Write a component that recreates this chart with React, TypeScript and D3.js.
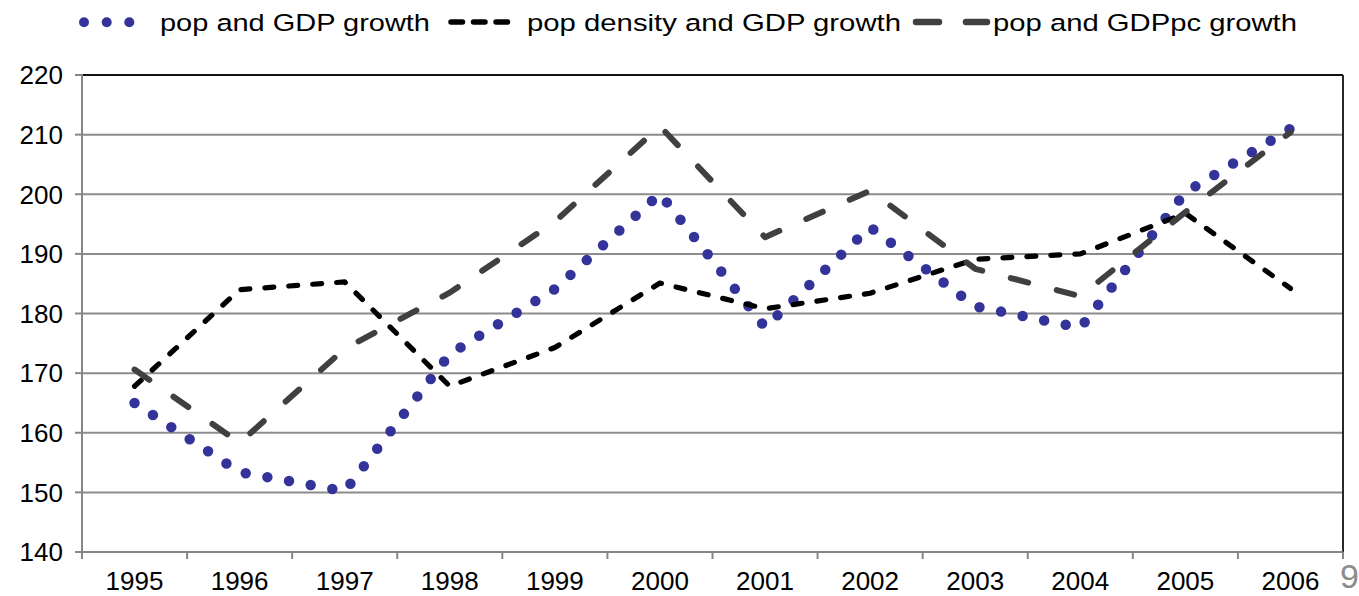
import React from "react";
import * as d3 from "d3";

// Years on the category axis
const years = ["1995", "1996", "1997", "1998", "1999", "2000", "2001", "2002", "2003", "2004", "2005", "2006"];

// Index series
const popGdpGrowth = [165.0, 153.4, 150.2, 173.2, 184.1, 200.1, 177.7, 194.5, 181.2, 177.6, 200.3, 211.0];
const popDensityGdpGrowth = [167.8, 184.0, 185.3, 167.8, 174.3, 185.1, 180.8, 183.4, 189.1, 190.0, 196.8, 184.2];
const popGdppcGrowth = [170.6, 158.3, 174.1, 183.5, 195.4, 211.4, 192.8, 200.6, 187.5, 182.9, 197.0, 210.4];

// Value axis ticks
const yTicks = [140, 150, 160, 170, 180, 190, 200, 210, 220];

const seriesNames = ["pop and GDP growth", "pop density and GDP growth", "pop and GDPpc growth"];

const W = 1359;
const H = 596;
const plot = { left: 82, right: 1343, top: 75, bottom: 552 };
const FONT = "'Liberation Sans', Arial, Helvetica, sans-serif";

const BLUE = "#333399";
const BLACK = "#000000";
const DARK = "#404040";
const GRID = "#8c8c8c";

export default function App() {
  const x = d3.scaleBand<string>().domain(years).range([plot.left, plot.right]).paddingInner(0).paddingOuter(0);
  const bw = x.bandwidth();
  const cx = (i: number) => (x(years[i]) as number) + bw / 2;
  const y = d3.scaleLinear().domain([140, 220]).range([plot.bottom, plot.top]);

  const line = d3
    .line<number>()
    .x((_, i) => cx(i))
    .y((d) => y(d));

  const boundaries = years.map((yr) => x(yr) as number).concat([plot.right]);

  return (
    <svg
      width={W}
      height={H}
      viewBox={`0 0 ${W} ${H}`}
      style={{ position: "absolute", left: 0, top: 0, background: "#fff" }}
      fontFamily={FONT}
    >
      <rect x={0} y={0} width={W} height={H} fill="#fff" />

      {/* horizontal gridlines */}
      {yTicks.slice(1, -1).map((t) => (
        <line key={t} x1={plot.left} x2={plot.right} y1={y(t)} y2={y(t)} stroke={GRID} strokeWidth={2} />
      ))}

      {/* plot frame: dark top and right edges */}
      <line x1={plot.left} x2={plot.right} y1={plot.top} y2={plot.top} stroke="#111" strokeWidth={2} />
      <line x1={plot.right} x2={plot.right} y1={plot.top} y2={plot.bottom} stroke="#111" strokeWidth={1.8} />

      {/* value axis */}
      <line x1={plot.left} x2={plot.left} y1={plot.top - 1} y2={plot.bottom} stroke="#868686" strokeWidth={2} />
      {yTicks.map((t) => (
        <g key={t}>
          <line x1={plot.left - 7} x2={plot.left} y1={y(t)} y2={y(t)} stroke="#868686" strokeWidth={2} />
          <text x={63} y={y(t) + 9.3} fontSize={26} textAnchor="end" fill="#000">
            {t}
          </text>
        </g>
      ))}

      {/* category axis */}
      <line x1={plot.left} x2={plot.right} y1={plot.bottom} y2={plot.bottom} stroke="#868686" strokeWidth={2} />
      {boundaries.map((bx, i) => (
        <line key={i} x1={bx} x2={bx} y1={plot.bottom} y2={plot.bottom + 7} stroke="#868686" strokeWidth={2} />
      ))}
      {years.map((yr, i) => (
        <text key={yr} x={cx(i)} y={590} fontSize={26} textAnchor="middle" fill="#000">
          {yr}
        </text>
      ))}

      {/* series */}
      <path
        d={line(popGdpGrowth) || ""}
        fill="none"
        stroke={BLUE}
        strokeWidth={10.5}
        strokeLinecap="round"
        strokeDasharray="0 22"
      />
      <path
        d={line(popDensityGdpGrowth) || ""}
        fill="none"
        stroke={BLACK}
        strokeWidth={5.2}
        strokeLinecap="round"
        strokeLinejoin="round"
        strokeDasharray="9 15"
      />
      <path
        d={line(popGdppcGrowth) || ""}
        fill="none"
        stroke={DARK}
        strokeWidth={6}
        strokeLinecap="round"
        strokeLinejoin="round"
        strokeDasharray="18 29.5"
      />

      {/* legend */}
      <g>
        {[84, 106.7, 129.3].map((dx) => (
          <circle key={dx} cx={dx} cy={22.3} r={5} fill={BLUE} />
        ))}
        <text x={160} y={31} fontSize={24.5} textLength={270} lengthAdjust="spacingAndGlyphs" fill="#000">
          {seriesNames[0]}
        </text>

        <line
          x1={451}
          x2={507.5}
          y1={22}
          y2={22}
          stroke={BLACK}
          strokeWidth={5.5}
          strokeLinecap="round"
          strokeDasharray="11.5 11"
        />
        <text x={527} y={31} fontSize={24.5} textLength={374} lengthAdjust="spacingAndGlyphs" fill="#000">
          {seriesNames[1]}
        </text>

        <line
          x1={916}
          x2={987}
          y1={22}
          y2={22}
          stroke={DARK}
          strokeWidth={6.5}
          strokeLinecap="round"
          strokeDasharray="23 27"
        />
        <text x={993} y={31} fontSize={24.5} textLength={304} lengthAdjust="spacingAndGlyphs" fill="#000">
          {seriesNames[2]}
        </text>
      </g>

      {/* page number fragment at the corner */}
      <text x={1340} y={588} fontSize={34} fill="#8c8c8c">
        9
      </text>
    </svg>
  );
}
